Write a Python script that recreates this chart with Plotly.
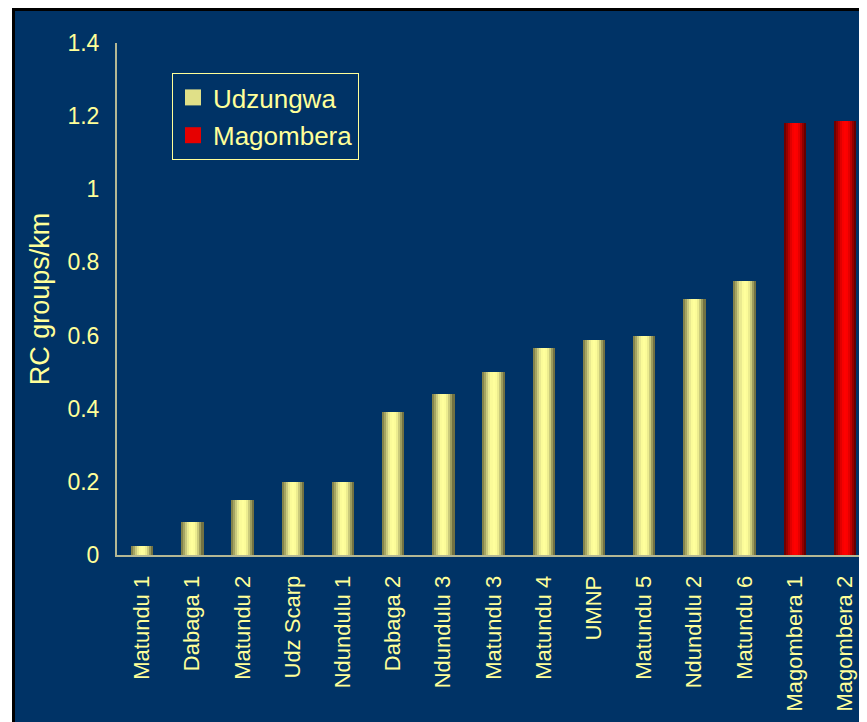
import plotly.graph_objects as go

# Data
sites = ["Matundu 1", "Dabaga 1", "Matundu 2", "Udz Scarp", "Ndundulu 1", "Dabaga 2",
         "Ndundulu 3", "Matundu 3", "Matundu 4", "UMNP", "Matundu 5", "Ndundulu 2",
         "Matundu 6", "Magombera 1", "Magombera 2"]
rc_groups = [0.025, 0.09, 0.15, 0.20, 0.20, 0.39, 0.44, 0.50, 0.565, 0.587, 0.598,
             0.70, 0.75, 1.18, 1.186]
region = ["Udzungwa"] * 13 + ["Magombera"] * 2
y_ticks = [0, 0.2, 0.4, 0.6, 0.8, 1, 1.2, 1.4]

# Cylinder-like shading, left to right
shade = {
    "Udzungwa": ["#84844c", "#a5a563", "#caca7d", "#eaea90", "#fbfb99", "#ffff9c",
                 "#fcfc99", "#ecec8f", "#caca7b", "#9c9c5e", "#727243"],
    "Magombera": ["#700000", "#940000", "#bc0000", "#e00000", "#f70000", "#ff0000",
                  "#fb0000", "#e40000", "#bd0000", "#8e0000", "#660000"],
}
legend_col = {"Udzungwa": "#e0e088", "Magombera": "#e60000"}
navy = "#003366"
txt = "#ffff99"
bar_w = 0.44

fig = go.Figure()
for grp, gid in [("Udzungwa", "g1"), ("Magombera", "g2")]:
    xs = [s for s, r in zip(sites, region) if r == grp]
    ys = [v for v, r in zip(rc_groups, region) if r == grp]
    cols = shade[grp]
    n = len(cols)
    for i, c in enumerate(cols):
        fig.add_trace(go.Bar(
            x=xs, y=ys, name=grp, legendgroup=gid, showlegend=False,
            width=bar_w / n + 0.004, offset=-bar_w / 2 + i * bar_w / n,
            marker=dict(color=c, line=dict(width=0)),
            hoverinfo="x+y",
        ))
    # legend entry with a bigger square swatch
    fig.add_trace(go.Scatter(
        x=[None], y=[None], mode="markers", name=grp, legendgroup=gid,
        marker=dict(symbol="square", size=16, color=legend_col[grp]),
        hoverinfo="skip",
    ))

# Panel background with black border, like the slide frame
W, H = 859, 714
px_l, px_t, px_h = 109, 35, 512
px_w = W - px_l
fig.add_shape(type="rect", xref="paper", yref="paper", layer="below",
              x0=(5.5 - px_l) / px_w, x1=1.2,
              y0=-0.5, y1=(px_t + px_h - 1.5) / px_h,
              fillcolor=navy, line=dict(color="black", width=3))

fig.update_layout(
    width=W, height=H,
    margin=dict(l=px_l, r=0, t=px_t, b=H - px_t - px_h),
    paper_bgcolor="white", plot_bgcolor="rgba(0,0,0,0)",
    barmode="overlay", bargap=0,
    font=dict(family="Liberation Sans, Arial", color=txt, size=22),
    legend=dict(x=(164 - px_l) / px_w, y=(px_t + px_h - 65) / px_h,
                xanchor="left", yanchor="top",
                bgcolor=navy, bordercolor=txt, borderwidth=1,
                font=dict(size=26, color=txt), tracegroupgap=1,
                itemsizing="trace"),
    showlegend=True,
)
fig.update_xaxes(
    type="category", categoryorder="array", categoryarray=sites,
    range=[-0.5, 14.44], tickangle=-90, ticks="", ticklabelstandoff=10,
    showline=True, linecolor="#b4b894", linewidth=2, showgrid=False,
    tickfont=dict(size=22, color=txt),
)
fig.update_yaxes(
    range=[0, 1.4], tickvals=y_ticks, ticktext=[f"{v:g}" for v in y_ticks],
    ticks="", ticklabelstandoff=11,
    showline=True, linecolor="#b4b894", linewidth=2, showgrid=False, zeroline=False,
    tickfont=dict(size=23, color=txt),
    title=dict(text="RC groups/km", font=dict(size=27, color=txt), standoff=10),
)

fig.write_html("out.html")
